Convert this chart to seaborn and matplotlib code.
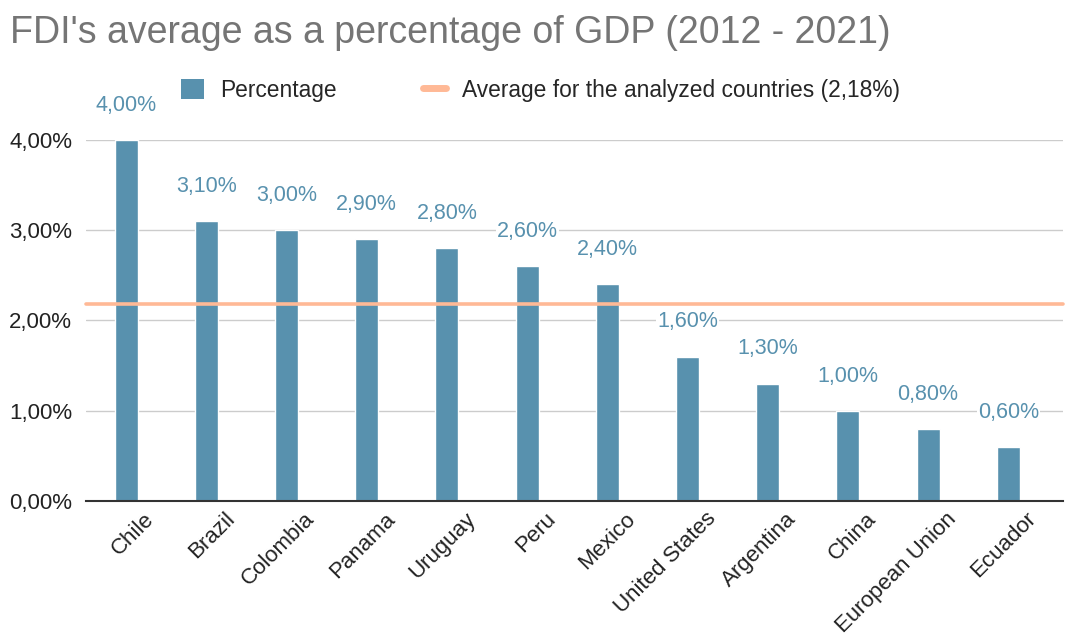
import matplotlib
matplotlib.use("Agg")
import matplotlib.pyplot as plt
import matplotlib.transforms as mtransforms
from matplotlib.lines import Line2D
from matplotlib.patches import Patch
import seaborn as sns
import pandas as pd

# Data
countries = ["Chile", "Brazil", "Colombia", "Panama", "Uruguay", "Peru", "Mexico",
             "United States", "Argentina", "China", "European Union", "Ecuador"]
fdi_pct = [4.0, 3.1, 3.0, 2.9, 2.8, 2.6, 2.4, 1.6, 1.3, 1.0, 0.8, 0.6]
average_pct = 2.18
y_ticks = [0, 1, 2, 3, 4]

BAR = "#5891ae"
AVG = "#ffb996"

sns.set_theme(style="white")
plt.rcParams["font.family"] = ["Liberation Sans", "DejaVu Sans"]

df = pd.DataFrame({"country": countries, "pct": fdi_pct})

fig = plt.figure(figsize=(10.66, 6.4), dpi=100)
ax = fig.add_axes([0.0807, 0.2172, 0.9163, 0.5641])

sns.barplot(data=df, x="country", y="pct", color=BAR, width=0.285,
            saturation=1, ax=ax, zorder=3)

ax.set_ylim(0, 4)
ax.set_xlim(-0.5, 11.68)
ax.set_yticks(y_ticks)
ax.set_yticklabels([f"{v:.2f}".replace(".", ",") + "%" for v in y_ticks],
                   fontsize=16, color="#222222")
ax.yaxis.grid(True, color="#cccccc", linewidth=1, zorder=0)
ax.set_axisbelow(True)
for s in ["top", "right", "left"]:
    ax.spines[s].set_visible(False)
ax.spines["bottom"].set_color("#333333")
ax.spines["bottom"].set_linewidth(1.5)
ax.spines["bottom"].set_zorder(4)
ax.tick_params(axis="both", length=0)
ax.tick_params(axis="y", pad=10)
ax.set_xlabel("")
ax.set_ylabel("")

# Rotated category labels
offset = mtransforms.ScaledTranslation(0.25, -0.10, fig.dpi_scale_trans)
ax.set_xticks(range(len(countries)))
ax.set_xticklabels(countries, rotation=45, ha="right", va="center",
                   rotation_mode="anchor", fontsize=16, color="#222222")
for lbl in ax.get_xticklabels():
    lbl.set_transform(lbl.get_transform() + offset)

# Average reference line
ax.axhline(average_pct, color=AVG, linewidth=2.6, zorder=5, clip_on=False)

# Value labels
for i, v in enumerate(fdi_pct):
    ax.annotate(f"{v:.2f}".replace(".", ",") + "%", (i, v), xytext=(0, 25),
                textcoords="offset points", ha="center", va="center",
                fontsize=15.5, color=BAR, clip_on=False, zorder=6,
                bbox=dict(boxstyle="square,pad=0.05", fc="white", ec="none"))

fig.text(0.009, 0.948, "FDI's average as a percentage of GDP (2012 - 2021)",
         fontsize=27, color="#757575", ha="left", va="center")

handles = [Patch(facecolor=BAR, edgecolor="none", label="Percentage"),
           Line2D([], [], color=AVG, linewidth=5,
                  label=f"Average for the analyzed countries ({average_pct:.2f}".replace(".", ",") + "%)")]
fig.legend(handles=handles, loc="center", bbox_to_anchor=(0.507, 0.859), ncol=2,
           frameon=False, fontsize=16.4, handlelength=1.0, handleheight=1.0,
           columnspacing=3.8, handletextpad=0.7)

fig.savefig("out.png", dpi=100)
